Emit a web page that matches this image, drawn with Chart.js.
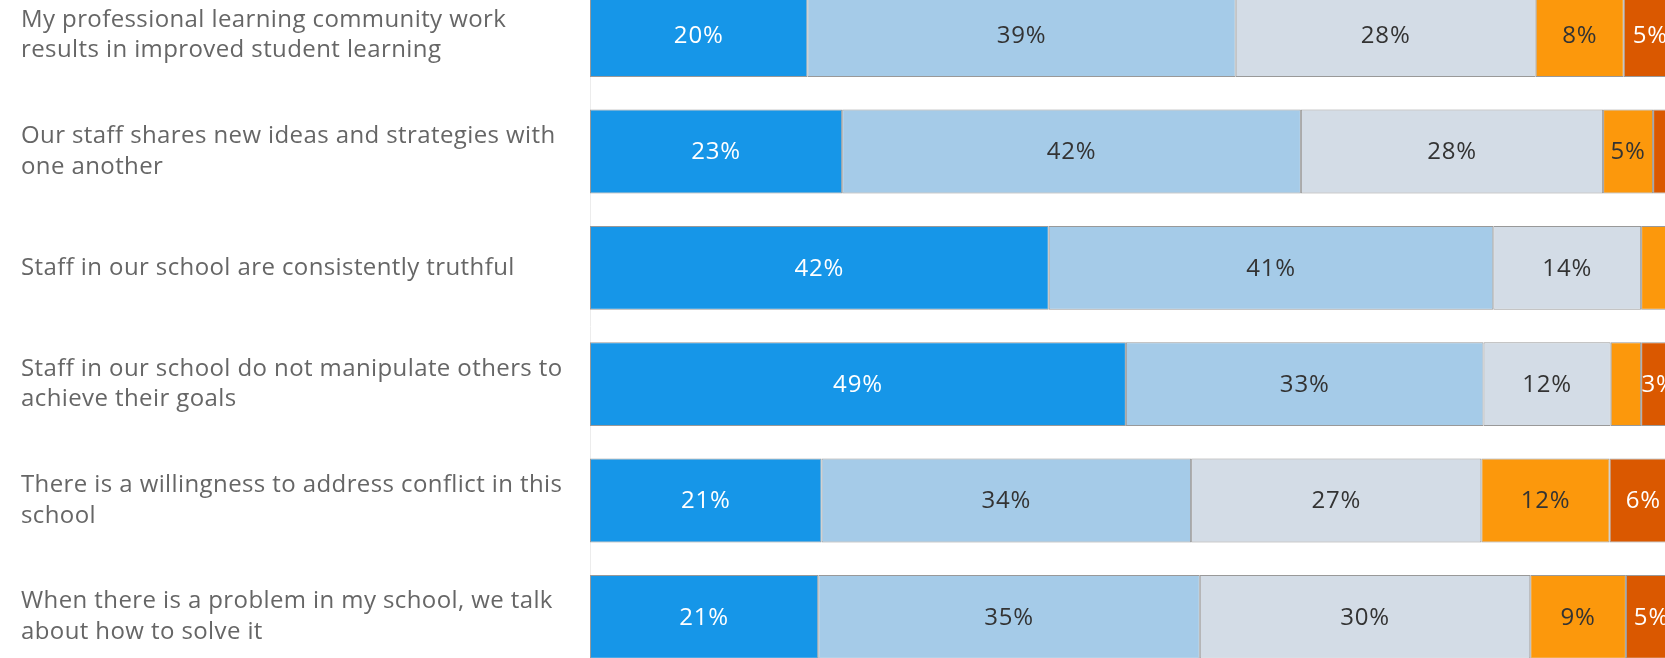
<!DOCTYPE html>
<html>
<head>
<meta charset="utf-8">
<script src="https://cdn.jsdelivr.net/npm/chart.js@4"></script>
<style>
  html, body { margin: 0; padding: 0; background: #fff; overflow: hidden; width: 1665px; height: 658px; }
  #wrap { position: absolute; left: 0; top: -23px; width: 1680px; height: 698px; }
</style>
</head>
<body>
<div id="wrap"><canvas id="c"></canvas></div>
<script>
const categories = [
  ["My professional learning community work", "results in improved student learning"],
  ["Our staff shares new ideas and strategies with", "one another"],
  ["Staff in our school are consistently truthful"],
  ["Staff in our school do not manipulate others to", "achieve their goals"],
  ["There is a willingness to address conflict in this", "school"],
  ["When there is a problem in my school, we talk", "about how to solve it"]
];
const seriesNames = ["Strongly agree", "Agree", "Neutral", "Disagree", "Strongly disagree"];
const stronglyAgree    = [20.0, 23.2, 42.2, 49.3, 21.3, 21.0];
const agree            = [39.4, 42.2, 40.9, 32.9, 34.0, 35.1];
const neutral          = [27.6, 27.8, 13.6, 11.7, 26.7, 30.4];
const disagree         = [8.1, 4.6, 2.6, 2.8, 11.8, 8.8];
const stronglyDisagree = [4.9, 2.2, 0.7, 3.3, 6.2, 4.7];

const colors = ["#1696e8", "#a5cbe8", "#d3dce6", "#fc980c", "#da5800"];
const labelColors = ["#ffffff", "#333333", "#333333", "#333333", "#ffffff"];
const FONT = "'Open Sans'";

const seriesValues = [stronglyAgree, agree, neutral, disagree, stronglyDisagree];

const spacingPlugin = {
  id: "spacing",
  beforeDraw(chart) { chart.ctx.letterSpacing = "0.4px"; }
};

const labelPlugin = {
  id: "segLabels",
  afterDatasetsDraw(chart) {
    const ctx = chart.ctx;
    ctx.save();
    ctx.font = "24px " + FONT;
    ctx.letterSpacing = "0.8px";
    ctx.textAlign = "center";
    ctx.textBaseline = "middle";
    chart.data.datasets.forEach((ds, di) => {
      const meta = chart.getDatasetMeta(di);
      meta.data.forEach((bar, i) => {
        const w = Math.abs(bar.x - bar.base);
        if (w < 34) return;
        ctx.fillStyle = labelColors[di];
        ctx.fillText(Math.round(ds.data[i]) + "%", (bar.x + bar.base) / 2, bar.y + 1);
      });
    });
    ctx.restore();
  }
};

new Chart(document.getElementById("c"), {
  type: "bar",
  data: {
    labels: categories,
    datasets: seriesValues.map((vals, k) => ({
      label: seriesNames[k],
      data: vals,
      backgroundColor: colors[k],
      borderColor: "#999999",
      borderWidth: 1,
      borderSkipped: false,
      barPercentage: 0.72,
      categoryPercentage: 1.0
    }))
  },
  options: {
    indexAxis: "y",
    responsive: true,
    maintainAspectRatio: false,
    animation: false,
    layout: { padding: { left: 21, right: 3, top: 0, bottom: 0 } },
    plugins: { legend: { display: false }, tooltip: { enabled: false } },
    scales: {
      x: { stacked: true, min: 0, max: 100, display: false },
      y: {
        stacked: true,
        grid: { display: false, drawTicks: false },
        border: { display: true, color: "#ececec", width: 1 },
        afterFit(scale) { scale.width = 569; scale.paddingTop = 0; scale.paddingBottom = 0; },
        ticks: {
          crossAlign: "far",
          color: "#666666",
          padding: 0,
          font: { family: FONT, size: 24, lineHeight: 1.29 }
        }
      }
    }
  },
  plugins: [spacingPlugin, labelPlugin]
});
</script>
</body>
</html>
